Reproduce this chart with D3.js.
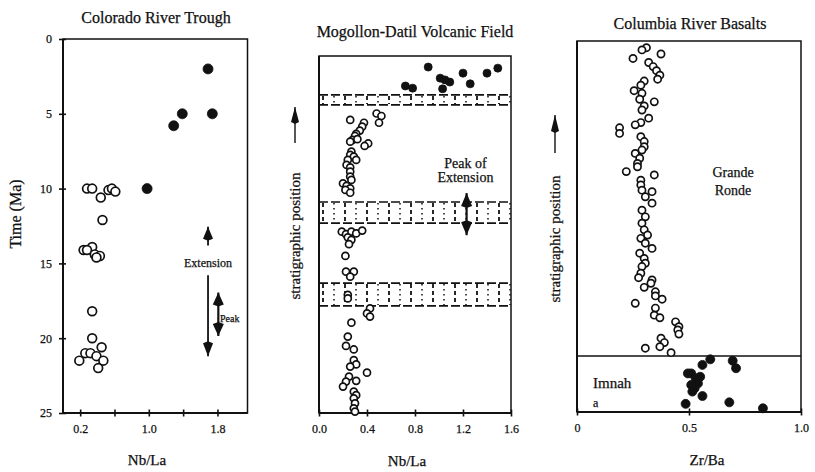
<!DOCTYPE html>
<html><head><meta charset="utf-8">
<script src="https://cdn.jsdelivr.net/npm/d3@7"></script>
<style>
body{margin:0;background:#fff}
text{font-family:"Liberation Serif","Times New Roman",serif;fill:#111;stroke:#111;stroke-width:0.25px}
</style>
</head><body>
<svg id="c" width="815" height="472"></svg>
<script>
// ---------- DATA ----------
// Panel 1: Colorado River Trough  [Nb/La, Time (Ma)]
const crtFilled = [[1.69,2.0],[1.39,5.0],[1.74,5.0],[1.29,5.8],[0.98,10.0]];
const crtOpen = [[0.28,10.0],[0.34,10.0],[0.53,10.1],[0.57,10.0],[0.61,10.2],[0.44,10.6],[0.46,12.1],
  [0.24,14.1],[0.34,13.9],[0.28,14.1],[0.37,14.4],[0.43,14.5],[0.39,14.6],[0.34,18.2],[0.34,20.0],
  [0.45,20.6],[0.26,21.0],[0.32,21.0],[0.19,21.5],[0.39,21.2],[0.47,21.5],[0.41,22.0]];
const crtXTicks = [0.2,0.6,1.0,1.4,1.8];
const crtXLabels = [0.2,1.0,1.8];
const crtYTicks = [0,5,10,15,20,25];

// Panel 2: Mogollon-Datil Volcanic Field [Nb/La, stratigraphic position 0-100]
const mdFilled = [[0.91,96.9],[1.01,93.8],[1.05,93.3],[1.09,92.7],[1.20,95.2],[1.26,92.2],[1.40,95.2],
  [1.49,96.6],[0.72,91.6],[0.78,91.0],[1.03,90.8]];
const mdOpen = [[0.26,82.1],[0.48,83.9],[0.52,83.2],[0.50,81.3],[0.375,81.3],[0.36,80.2],[0.34,79.1],
  [0.31,78.2],[0.30,77.6],[0.28,76.5],[0.26,76.0],[0.32,76.7],[0.41,75.5],[0.38,74.8],[0.27,73.2],
  [0.26,72.3],[0.29,71.8],[0.24,70.9],[0.31,70.9],[0.23,69.5],[0.26,68.8],[0.26,67.6],[0.26,66.2],
  [0.27,65.3],[0.20,64.3],[0.23,63.6],[0.26,62.9],[0.22,62.5],[0.26,61.7],
  [0.19,50.8],[0.225,50.1],[0.27,50.8],[0.31,50.3],[0.36,51.1],[0.24,49.2],[0.27,48.5],[0.25,47.3],
  [0.22,44.0],[0.225,39.6],[0.29,39.6],[0.26,38.2],[0.24,33.1],[0.24,32.1],[0.425,29.3],[0.40,27.9],
  [0.425,27.0],[0.27,25.3],[0.24,21.4],[0.225,18.8],[0.29,17.8],[0.29,14.8],[0.31,13.6],[0.26,13.0],
  [0.25,10.2],[0.40,11.3],[0.31,9.0],[0.225,8.8],[0.20,7.4],[0.29,6.0],[0.31,5.0],[0.29,4.1],
  [0.30,2.7],[0.29,1.3],[0.30,0.4]];
const mdBands = [[86.3,89.1],[53.2,59.1],[30.0,36.4]];
const mdXTicks = [0.0,0.4,0.8,1.2,1.6];

// Panel 3: Columbia River Basalts [Zr/Ba, stratigraphic position 0-100]
const crbOpen = [[0.31,98.2],[0.29,97.6],[0.25,95.3],[0.375,96.5],[0.32,94.2],[0.34,93.1],[0.355,92.0],
  [0.37,90.8],[0.36,89.7],[0.30,89.2],[0.285,88.1],[0.255,86.6],[0.29,85.9],[0.28,84.3],[0.345,83.6],
  [0.30,82.5],[0.29,81.4],[0.32,79.2],[0.285,78.0],[0.26,77.4],[0.19,76.6],[0.19,75.1],[0.285,74.2],
  [0.30,72.9],[0.30,71.5],[0.29,70.6],[0.26,69.7],[0.28,68.4],[0.27,67.0],[0.27,66.1],[0.22,64.8],
  [0.345,63.9],[0.285,62.5],[0.285,61.2],[0.29,59.8],[0.335,59.4],[0.305,58.0],[0.335,56.3],[0.29,54.4],
  [0.305,52.6],[0.29,50.9],[0.30,49.1],[0.315,47.7],[0.285,46.8],[0.305,45.5],[0.335,44.1],[0.28,42.8],
  [0.30,41.4],[0.305,40.1],[0.29,39.2],[0.285,37.4],[0.275,36.2],[0.335,35.6],[0.33,34.7],[0.30,33.6],
  [0.35,32.4],[0.35,31.3],[0.38,30.4],[0.26,29.3],[0.35,28.0],[0.345,26.1],[0.37,25.4],[0.44,24.3],
  [0.455,23.0],[0.45,22.1],[0.455,21.0],[0.375,19.9],[0.39,18.7],[0.37,17.6],[0.305,17.2],[0.42,16.0]];
const crbFilled = [[0.595,14.2],[0.695,13.8],[0.71,11.8],[0.56,12.7],[0.51,10.4],[0.495,10.4],[0.53,9.1],
  [0.55,9.5],[0.54,7.7],[0.525,6.4],[0.51,7.3],[0.515,5.5],[0.56,4.3],[0.485,2.2],[0.68,2.6],[0.83,1.0]];
const crbDivider = 15.1;
const crbXTicks = [0,0.5,1.0];
const crbXLabels = ["0","0.5","1.0"];

// ---------- DRAW ----------
const svg = d3.select("#c");
const INK = "#111";

function box(g, x, y, axisW) {
  const [x0,x1] = d3.extent(x.range()), [y0,y1] = d3.extent(y.range());
  g.append("rect").attr("x",x0).attr("y",y0).attr("width",x1-x0).attr("height",y1-y0)
    .attr("fill","none").attr("stroke",INK).attr("stroke-width",1.5);
  g.append("line").attr("x1",x0).attr("x2",x0).attr("y1",y0).attr("y2",y1).attr("stroke",INK).attr("stroke-width",axisW);
  g.append("line").attr("x1",x0).attr("x2",x1).attr("y1",y1).attr("y2",y1).attr("stroke",INK).attr("stroke-width",axisW);
}
function xAxis(g, x, y, ticks, fmt, showTicks) {
  const yb = d3.max(y.range());
  const ax = g.append("g").attr("transform",`translate(0,${yb})`)
    .call(d3.axisBottom(x).tickValues(ticks).tickSize(showTicks?6:0).tickFormat(fmt));
  ax.select(".domain").remove();
  ax.selectAll(".tick line").attr("y1",-3.5).attr("y2",3.5).attr("stroke",INK).attr("stroke-width",1.6);
  ax.selectAll(".tick text").attr("y",11).attr("font-size",12).style("font-family",'"Liberation Serif",serif').attr("fill",INK);
}
function dots(g, x, y, data, filled, r) {
  g.append("g").selectAll("circle").data(data).join("circle")
    .attr("cx",d=>x(d[0])).attr("cy",d=>y(d[1])).attr("r",r)
    .attr("fill",filled?INK:"#fff").attr("stroke",INK).attr("stroke-width",filled?0.8:1.7);
}
function arrow(g, x, ya, yb, double, hw, hl, sw) {
  g.append("line").attr("x1",x).attr("x2",x).attr("y1",ya).attr("y2",yb).attr("stroke",INK).attr("stroke-width",sw);
  const head = (tip, from) => {
    const dir = Math.sign(tip-from), base = tip - dir*hl;
    g.append("path").attr("d",`M${x},${tip}L${x-hw/2},${base+dir*2}L${x},${base}L${x+hw/2},${base+dir*2}Z`).attr("fill",INK);
  };
  head(yb, ya);
  if (double) head(ya, yb);
}
function txt(g, x, y, s, size, anchor, extra) {
  const t = g.append("text").attr("x",x).attr("y",y).attr("font-size",size)
    .attr("text-anchor",anchor||"middle").text(s);
  if (extra) extra(t);
  return t;
}

// ---- Panel 1 ----
{
  const g = svg.append("g");
  const x = d3.scaleLinear().domain([0,2.15]).range([63,247.5]);
  const y = d3.scaleLinear().domain([0,25]).range([39,413]);
  box(g, x, y, 2);
  xAxis(g, x, y, crtXTicks, d => crtXLabels.includes(d) ? d.toFixed(1) : "", true);
  const ay = g.append("g").attr("transform","translate(63,0)")
    .call(d3.axisLeft(y).tickValues(crtYTicks).tickSize(6));
  ay.select(".domain").remove();
  ay.selectAll(".tick line").attr("x1",-4).attr("x2",3).attr("stroke",INK).attr("stroke-width",1.6);
  ay.selectAll(".tick text").attr("x",-11).attr("font-size",12).style("font-family",'"Liberation Serif",serif').attr("fill",INK);
  dots(g, x, y, crtOpen, false, 4.4);
  dots(g, x, y, crtFilled, true, 5);
  // annotations
  arrow(g, x(1.69), y(13.8), y(12.55), false, 10, 14, 1.8);
  txt(g, x(1.69), y(15.0)+4, "Extension", 12);
  arrow(g, x(1.69), y(15.8), y(21.2), false, 10, 15, 1.8);
  g.append("rect").attr("x",x(1.76)).attr("y",y(18.35)).attr("width",27).attr("height",13).attr("fill","#fff");
  arrow(g, x(1.81), y(16.95), y(19.85), true, 11, 14, 2.2);
  txt(g, x(1.83), y(18.7)+3.5, "Peak", 10, "start");
  txt(g, 156, 23, "Colorado River Trough", 16);
  txt(g, 147, 465, "Nb/La", 15);
  txt(g, 0, 0, "Time (Ma)", 16, "middle", t => t.attr("transform","translate(21,214) rotate(-90)"));
}

// ---- Panel 2 ----
{
  const g = svg.append("g");
  const x = d3.scaleLinear().domain([0,1.6]).range([319,511]);
  const y = d3.scaleLinear().domain([0,100]).range([413,56]);
  const [x0,x1] = x.range();
  mdBands.forEach(b => {
    const yt = y(b[1]), yb = y(b[0]);
    g.append("rect").attr("x",x0).attr("y",yt).attr("width",x1-x0).attr("height",yb-yt).attr("fill","#fff");
    [yt,yb].forEach(yy => g.append("line").attr("x1",x0).attr("x2",x1).attr("y1",yy).attr("y2",yy)
      .attr("stroke",INK).attr("stroke-width",1.7).attr("stroke-dasharray","9,3"));
    d3.range(x0+4, x1, 11).forEach((xx,i) => g.append("line").attr("x1",xx).attr("x2",xx)
      .attr("y1",yt+1).attr("y2",yb-1).attr("stroke",INK)
      .attr("stroke-width",i%2?1.5:1.8).attr("stroke-dasharray",i%2?"1.5,3.5":"4,3"));
  });
  box(g, x, y, 2);
  xAxis(g, x, y, mdXTicks, d => d.toFixed(1), true);
  dots(g, x, y, mdOpen, false, 3.5);
  dots(g, x, y, mdFilled, true, 4);
  arrow(g, x(1.23), y(61.6), y(49.8), true, 11, 15, 2.2);
  txt(g, x(1.22), y(70.0)+4.5, "Peak of", 14);
  txt(g, x(1.22), y(66.1)+4.5, "Extension", 14);
  txt(g, 415, 37, "Mogollon-Datil Volcanic Field", 16);
  txt(g, 407, 466, "Nb/La", 15);
  txt(g, 0, 0, "stratigraphic position", 15, "middle", t => t.attr("transform","translate(300,236) rotate(-90)"));
  arrow(g, 295, 143, 107, false, 8, 17, 1.4);
}

// ---- Panel 3 ----
{
  const g = svg.append("g");
  const x = d3.scaleLinear().domain([0,1]).range([577,801]);
  const y = d3.scaleLinear().domain([0,100]).range([412,41]);
  box(g, x, y, 2);
  g.append("line").attr("x1",x(0)).attr("x2",x(1)).attr("y1",y(crbDivider)).attr("y2",y(crbDivider))
    .attr("stroke",INK).attr("stroke-width",1.6);
  xAxis(g, x, y, crbXTicks, (d,i) => crbXLabels[i], false);
  dots(g, x, y, crbOpen, false, 3.6);
  dots(g, x, y, crbFilled, true, 4.5);
  txt(g, 733, 177, "Grande", 14);
  txt(g, 733, 195, "Ronde", 14);
  txt(g, 593, 388, "Imnah", 15, "start");
  txt(g, 593, 407, "a", 12, "start");
  txt(g, 690, 29, "Columbia River Basalts", 16);
  txt(g, 707, 465, "Zr/Ba", 15);
  txt(g, 0, 0, "stratigraphic position", 15, "middle", t => t.attr("transform","translate(560,239) rotate(-90)"));
  arrow(g, 555, 153, 115, false, 8, 18, 1.4);
}
</script>
</body></html>
